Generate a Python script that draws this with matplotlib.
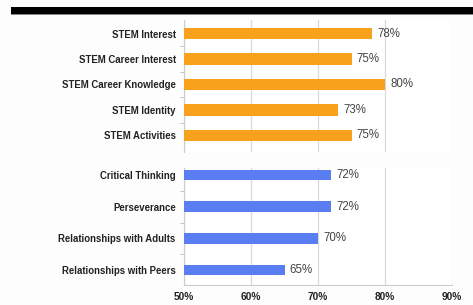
import matplotlib.pyplot as plt
from matplotlib.patches import Rectangle

# Dane
stem_labels = ['STEM Interest', 'STEM Career Interest', 'STEM Career Knowledge',
               'STEM Identity', 'STEM Activities']
stem_values = [78, 75, 80, 73, 75]

skill_labels = ['Critical Thinking', 'Perseverance',
                'Relationships with Adults', 'Relationships with Peers']
skill_values = [72, 72, 70, 65]

x_ticks = [50, 60, 70, 80, 90]

ORANGE = '#F7A11C'
BLUE = '#5A7EF2'
W, H = 473, 305

plt.rcParams['font.family'] = ['Liberation Sans', 'DejaVu Sans']


def style_axis(ax, labels, values, color, ylim, height):
    pos = list(range(len(labels)))
    ax.barh(pos, [v - 50 for v in values], left=50, height=height, color=color, zorder=3)
    for p, v in zip(pos, values):
        ax.text(v + 0.8, p, f'{v}%', va='center', ha='left', fontsize=8.3, color='#444444')
    ax.set_xlim(50, 90)
    ax.set_yticks(pos)
    ax.set_yticklabels(labels, fontsize=6.9, fontweight='bold', color='#222222')
    ax.set_yticks([p + 0.5 for p in pos[:-1]], minor=True)
    # granice ustawiane po tickach, bo set_yticks potrafi je rozszerzyć
    ax.set_ylim(*ylim)
    ax.tick_params(axis='y', which='major', length=0, pad=6)
    ax.tick_params(axis='y', which='minor', length=3, color='#bbbbbb', direction='out')
    ax.set_xticks(x_ticks)
    ax.grid(axis='x', color='#d8d8d8', linewidth=0.9, zorder=0)
    for s in ['top', 'right', 'bottom']:
        ax.spines[s].set_visible(False)
    ax.spines['left'].set_color('#cccccc')
    ax.spines['left'].set_linewidth(0.8)


fig = plt.figure(figsize=(W / 100, H / 100), dpi=100)
fig.patch.set_facecolor('#fdfdfd')

# Czarny pasek u góry
fig.add_artist(Rectangle((11 / W, 1 - 14 / H), 1, 7 / H, transform=fig.transFigure,
                         facecolor='black', edgecolor='none'))
fig.add_artist(Rectangle((11 / W, 1 - 15 / H), 1, 1 / H, transform=fig.transFigure,
                         facecolor='#888888', edgecolor='none'))

left = 184 / W
width = (452 - 184) / W

ax1 = fig.add_axes([left, 1 - 152 / H, width, 132 / H])
ax1.set_facecolor('white')
style_axis(ax1, stem_labels, stem_values, ORANGE, (4.65, -0.53), 0.45)
ax1.tick_params(axis='x', length=0, labelbottom=False)

ax2 = fig.add_axes([left, 1 - 285 / H, width, 117 / H])
ax2.set_facecolor('white')
style_axis(ax2, skill_labels, skill_values, BLUE, (3.47, -0.22), 0.34)
ax2.spines['bottom'].set_visible(True)
ax2.spines['bottom'].set_color('#cccccc')
ax2.set_xticklabels([f'{t}%' for t in x_ticks], fontsize=7.3, fontweight='bold', color='#222222')
ax2.tick_params(axis='x', length=0, pad=5)

fig.savefig('out.png', dpi=100, facecolor=fig.get_facecolor())
